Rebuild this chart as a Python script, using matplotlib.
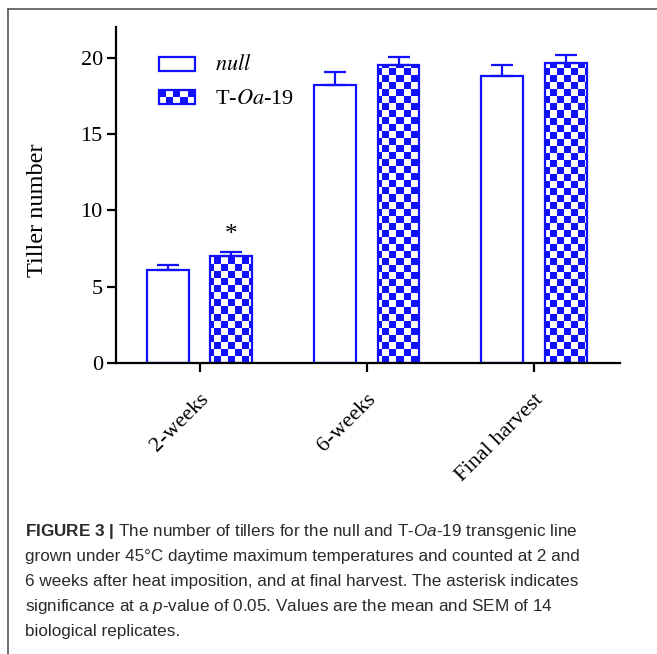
import matplotlib
matplotlib.use('Agg')
import matplotlib.pyplot as plt
import numpy as np
from matplotlib.lines import Line2D
from matplotlib.patches import Rectangle
from matplotlib.legend_handler import HandlerBase

# データ定義
groups = ['2-weeks', '6-weeks', 'Final harvest']
null_mean = [6.08, 18.17, 18.76]
null_sem = [0.33, 0.90, 0.78]
toa_mean = [7.01, 19.52, 19.67]
toa_sem = [0.27, 0.52, 0.52]
labels = [r'$\mathit{null}$', r'T-$\mathit{Oa}$-19']
yticks = [0, 5, 10, 15, 20]

blue = '#1010ff'
W, H = 657, 654

plt.rcParams['font.family'] = ['Liberation Serif', 'DejaVu Serif']
plt.rcParams['mathtext.fontset'] = 'custom'
plt.rcParams['mathtext.rm'] = 'Liberation Sans'
plt.rcParams['mathtext.it'] = 'Liberation Sans:italic'
plt.rcParams['mathtext.bf'] = 'Liberation Sans:bold'

fig = plt.figure(figsize=(W / 100, H / 100), dpi=100)
ax = fig.add_axes([116 / W, 1 - 363 / H, 504 / W, 336 / H])

x = np.arange(len(groups))
off, bw = 0.19, 0.25

# 棒グラフ
b1 = ax.bar(x - off, null_mean, bw, facecolor='white', edgecolor=blue,
            linewidth=1.6, zorder=2)
b2 = ax.bar(x + off, toa_mean, bw, facecolor='none', edgecolor=blue,
            linewidth=1.6, zorder=2)

# 市松模様 (7px)
ny, nx = 48, 72
checker = (np.indices((ny, nx)).sum(axis=0) % 2).astype(float)
cmap = matplotlib.colors.ListedColormap(['white', blue])
for bar in b2:
    im = ax.imshow(checker, cmap=cmap, extent=[0, 1, 0, 1], transform=ax.transAxes,
                   interpolation='nearest', aspect='auto', zorder=1.5)
    im.set_clip_path(bar)

# エラーバー(上側のみ)
for pos, m, s in [(x - off, null_mean, null_sem), (x + off, toa_mean, toa_sem)]:
    ax.errorbar(pos, m, yerr=[np.zeros(len(m)), s], fmt='none', ecolor=blue,
                elinewidth=1.6, capsize=8, capthick=1.6, zorder=3)

ax.text(x[0] + off, toa_mean[0] + toa_sem[0] + 0.35, '*', ha='center', va='bottom',
        fontsize=18)

ax.set_xlim(-0.5, 2.515)
ax.set_ylim(0, 22)
ax.set_yticks(yticks)
ax.set_xticks(x)
ax.set_xticklabels(groups, rotation=45, ha='right', va='top', rotation_mode='anchor')
ax.tick_params(axis='both', labelsize=16, width=1.6, length=6.5, color='black')
ax.tick_params(axis='x', pad=13)
ax.tick_params(axis='y', pad=3)
for side in ['top', 'right']:
    ax.spines[side].set_visible(False)
for side in ['left', 'bottom']:
    ax.spines[side].set_linewidth(1.6)
ax.set_ylabel('Tiller number', fontsize=17.5)
ax.yaxis.set_label_coords(-0.135, 0.455)


# 凡例 (市松模様つき)
class CheckerHandler(HandlerBase):
    def create_artists(self, legend, orig, xd, yd, w, h, fs, trans):
        arts = [Rectangle((xd, yd), w, h, facecolor='white', edgecolor=blue,
                          lw=1.6, transform=trans)]
        nc, nr = 5, 2
        cw, ch = w / nc, h / nr
        for i in range(nc):
            for j in range(nr):
                if (i + j) % 2 == 0:
                    arts.append(Rectangle((xd + i * cw, yd + (nr - 1 - j) * ch), cw, ch,
                                          facecolor=blue, edgecolor='none',
                                          transform=trans))
        return arts


class PlainHandler(HandlerBase):
    def create_artists(self, legend, orig, xd, yd, w, h, fs, trans):
        return [Rectangle((xd, yd), w, h, facecolor='white', edgecolor=blue,
                          lw=1.6, transform=trans)]


leg = ax.legend([b1, b2], labels, handler_map={b1: PlainHandler(), b2: CheckerHandler()},
                loc='upper left', bbox_to_anchor=(0.045, 0.975), frameon=False,
                handlelength=1.63, handleheight=0.6, handletextpad=0.9,
                labelspacing=0.6, prop={'size': 16, 'math_fontfamily': 'stix'})

# 外枠
fig.add_artist(Line2D([7.5 / W, 7.5 / W], [0, 1 - 8.5 / H], color='#555555', lw=1.2,
                      transform=fig.transFigure))
fig.add_artist(Line2D([7.5 / W, 1], [1 - 8.5 / H, 1 - 8.5 / H], color='#555555', lw=1.2,
                      transform=fig.transFigure))

# キャプション
caption = [
    r'$\mathbf{FIGURE\ 3\ |}$ The number of tillers for the null and T-$\mathit{Oa}$-19 transgenic line',
    'grown under 45\u00b0C daytime maximum temperatures and counted at 2 and',
    '6 weeks after heat imposition, and at final harvest. The asterisk indicates',
    r'significance at a $\mathit{p}$-value of 0.05. Values are the mean and SEM of 14',
    'biological replicates.',
]
for i, line in enumerate(caption):
    fig.text(25 / W, 1 - (536 + 25 * i) / H, line, ha='left', va='baseline',
             fontsize=12.3, color='#2a2a2a', family=['Liberation Sans', 'DejaVu Sans'])

fig.savefig('out.png', dpi=100)
